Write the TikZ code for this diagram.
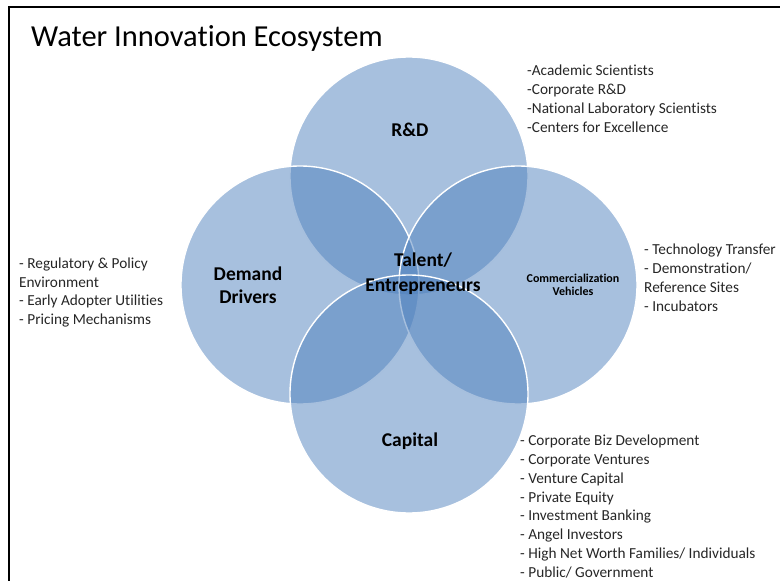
\documentclass[tikz,border=0pt]{standalone}
\usepackage{fontspec}
\usepackage{tikz}
\usepackage{xcolor}
\setmainfont[Ligatures=NoCommon]{Carlito}
\definecolor{ringblue}{RGB}{79,129,189}
\definecolor{listgrey}{RGB}{38,38,38}

\begin{document}
\begin{tikzpicture}[x=1pt,y=-1pt,
        ring/.style={circle,minimum size=238pt,inner sep=0pt,fill=ringblue,fill opacity=0.5,draw=white,draw opacity=1,line width=1.4pt},
        ringlabel/.style={font=\bfseries\fontsize{19.5}{25}\selectfont,align=center,text=black},
        itemlist/.style={font=\fontsize{15.3}{19}\selectfont,align=left,anchor=north west,inner sep=0pt,text=listgrey}]
        \useasboundingbox (0,0) rectangle (780,581);
        \draw[line width=2.5pt] (9,582) -- (9,7) -- (781,7);
        \node[anchor=base west,inner sep=0pt,font=\fontsize{30.5}{34}\selectfont] (title) at (31,46) {Water Innovation Ecosystem};

        \node[ring] (rd) at (409,176) {};
        \node[ring] (demand) at (300,285) {};
        \node[ring] (comm) at (518,285) {};
        \node[ring] (capital) at (409,394) {};

        \node[ringlabel] (rdlabel) at (410,130) {R\&D};
        \node[ringlabel,font=\bfseries\fontsize{19.5}{23}\selectfont] (demandlabel) at (248,285) {Demand\\Drivers};
        \node[ringlabel,font=\bfseries\fontsize{12}{13}\selectfont] (commlabel) at (573,285) {Commercialization\\Vehicles};
        \node[ringlabel] (capitallabel) at (410,441) {Capital};
        \node[ringlabel] (talent) at (423,274) {Talent/\\Entrepreneurs};

        \node[itemlist] (rditems) at (527,65) {-Academic Scientists\\-Corporate R\&D\\-National Laboratory Scientists\\-Centers for Excellence};
        \node[itemlist,font=\fontsize{15.3}{18.7}\selectfont] (demanditems) at (19,257.5) {- Regulatory \& Policy\\Environment\\- Early Adopter Utilities\\- Pricing Mechanisms};
        \node[itemlist] (commitems) at (644,243.5) {- Technology Transfer\\- Demonstration/\\Reference Sites\\- Incubators};
        \node[itemlist,font=\fontsize{15.3}{18.9}\selectfont] (capitalitems) at (520,434.5) {- Corporate Biz Development\\- Corporate Ventures\\- Venture Capital\\- Private Equity\\- Investment Banking\\- Angel Investors\\- High Net Worth Families/ Individuals\\- Public/ Government};
\end{tikzpicture}
\end{document}
